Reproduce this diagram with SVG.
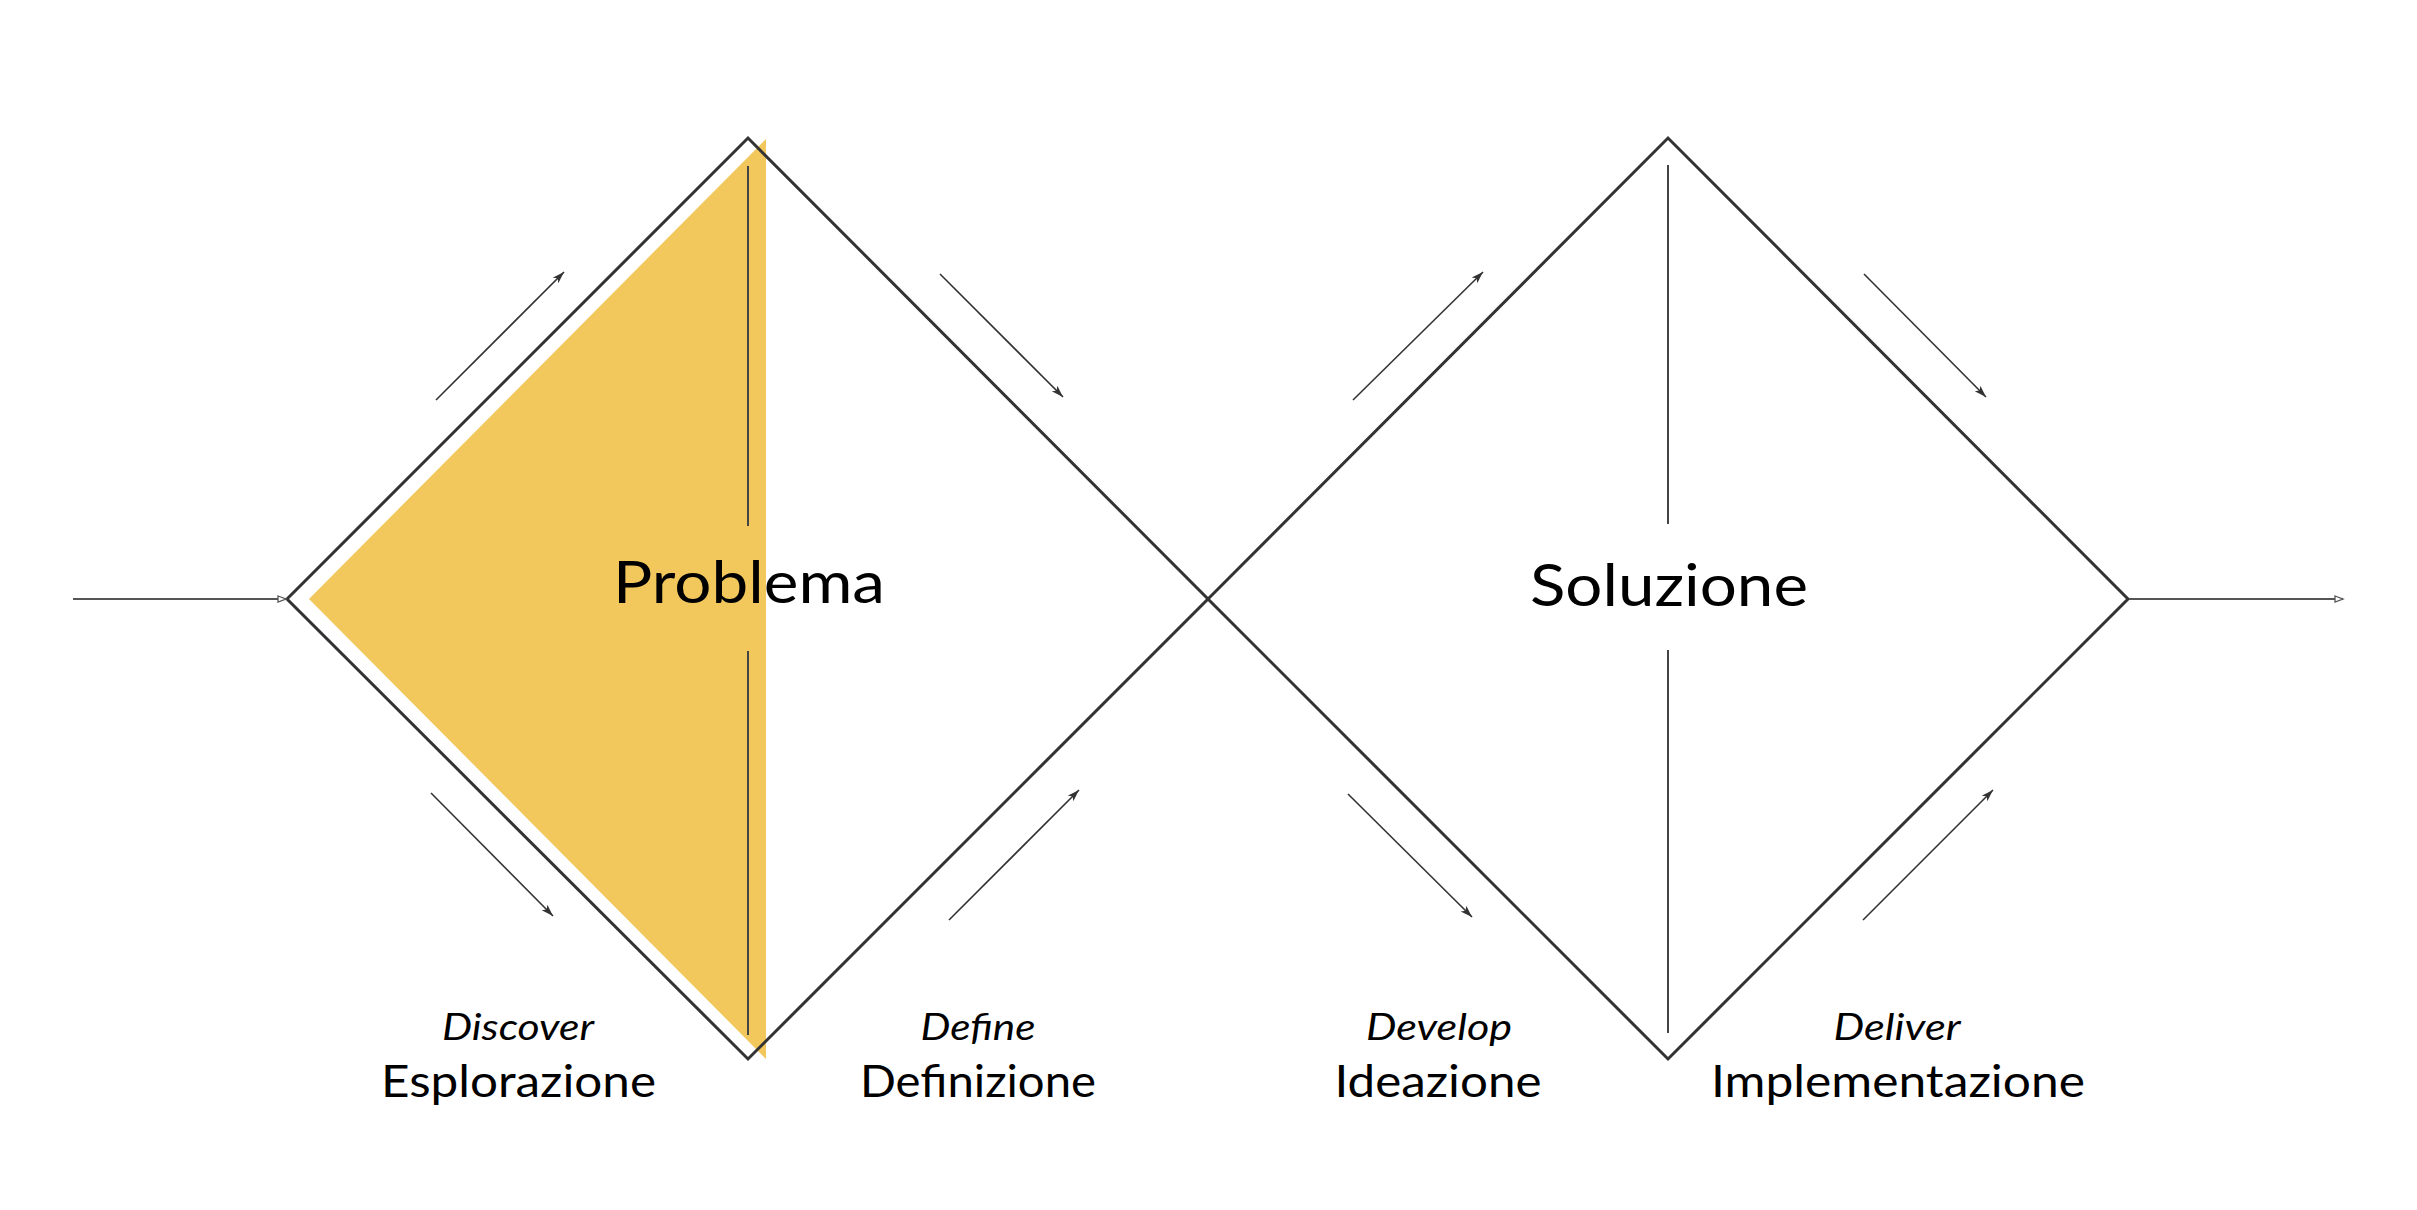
<svg xmlns="http://www.w3.org/2000/svg" width="2417" height="1210" viewBox="0 0 2417 1210">
<style>
.dia{fill:none;stroke:#333;stroke-width:3;stroke-linejoin:miter}
.axis{stroke:#444;stroke-width:2}
.arr{stroke:#333;stroke-width:1.6;fill:none}
.io{stroke:#555;stroke-width:1.8;fill:none}
.title{font-family:Lato,"Open Sans","Liberation Sans",sans-serif;font-size:58px;fill:#000;text-anchor:middle}
.en{font-family:Lato,"Open Sans","Liberation Sans",sans-serif;font-style:italic;font-size:36px;fill:#000;text-anchor:middle}
.it{font-family:Lato,"Open Sans","Liberation Sans",sans-serif;font-size:44px;fill:#000;text-anchor:middle}
</style>
<defs>
<marker id="head" markerUnits="userSpaceOnUse" markerWidth="14" markerHeight="10" refX="12" refY="5" orient="auto">
<path d="M0,1 L12,5 L0,9 L3,5 z" fill="#333"/>
</marker>
<marker id="open" markerUnits="userSpaceOnUse" markerWidth="12" markerHeight="10" refX="9" refY="5" orient="auto">
<path d="M1,2 L9,5 L1,8 z" fill="#fff" stroke="#555" stroke-width="1.3"/>
</marker>
</defs>
<rect width="2417" height="1210" fill="#fff"/>
<g id="node-problema">
<polygon points="309,599 766,139 766,1059" fill="#f2c75c"/>
<polygon class="dia" points="287,599 748,138 1208,599 748,1059"/>
<line class="axis" x1="748" y1="166" x2="748" y2="526"/>
<line class="axis" x1="748" y1="651" x2="748" y2="1035"/>
<text class="title" x="749" y="603" textLength="272" lengthAdjust="spacingAndGlyphs">Problema</text>
</g>
<g id="node-soluzione">
<polygon class="dia" points="1208,599 1668,138 2128,599 1668,1059"/>
<line class="axis" x1="1668" y1="165" x2="1668" y2="524"/>
<line class="axis" x1="1668" y1="650" x2="1668" y2="1033"/>
<text class="title" x="1669" y="606" textLength="278" lengthAdjust="spacingAndGlyphs">Soluzione</text>
</g>
<g id="label-discover">
<text class="en" x="518" y="1040" textLength="152" lengthAdjust="spacingAndGlyphs">Discover</text>
<text class="it" x="518.5" y="1097" textLength="275" lengthAdjust="spacingAndGlyphs">Esplorazione</text>
</g>
<g id="label-define">
<text class="en" x="978" y="1040" textLength="115" lengthAdjust="spacingAndGlyphs">Define</text>
<text class="it" x="978" y="1097" textLength="236" lengthAdjust="spacingAndGlyphs">Definizione</text>
</g>
<g id="label-develop">
<text class="en" x="1439" y="1040" textLength="146" lengthAdjust="spacingAndGlyphs">Develop</text>
<text class="it" x="1438" y="1097" textLength="207" lengthAdjust="spacingAndGlyphs">Ideazione</text>
</g>
<g id="label-deliver">
<text class="en" x="1897" y="1040" textLength="127" lengthAdjust="spacingAndGlyphs">Deliver</text>
<text class="it" x="1898" y="1097" textLength="374" lengthAdjust="spacingAndGlyphs">Implementazione</text>
</g>
<g id="connectors">
<line class="io" x1="73" y1="599" x2="286" y2="599" marker-end="url(#open)"/>
<line class="io" x1="2129" y1="599" x2="2343" y2="599" marker-end="url(#open)"/>
<line class="arr" x1="436" y1="400" x2="564" y2="272" marker-end="url(#head)"/>
<line class="arr" x1="431" y1="793" x2="553" y2="916" marker-end="url(#head)"/>
<line class="arr" x1="940" y1="274" x2="1063" y2="397" marker-end="url(#head)"/>
<line class="arr" x1="949" y1="920" x2="1079" y2="790" marker-end="url(#head)"/>
<line class="arr" x1="1353" y1="400" x2="1483" y2="272" marker-end="url(#head)"/>
<line class="arr" x1="1348" y1="794" x2="1472" y2="917" marker-end="url(#head)"/>
<line class="arr" x1="1864" y1="274" x2="1986" y2="397" marker-end="url(#head)"/>
<line class="arr" x1="1863" y1="920" x2="1993" y2="790" marker-end="url(#head)"/>
</g>
</svg>
